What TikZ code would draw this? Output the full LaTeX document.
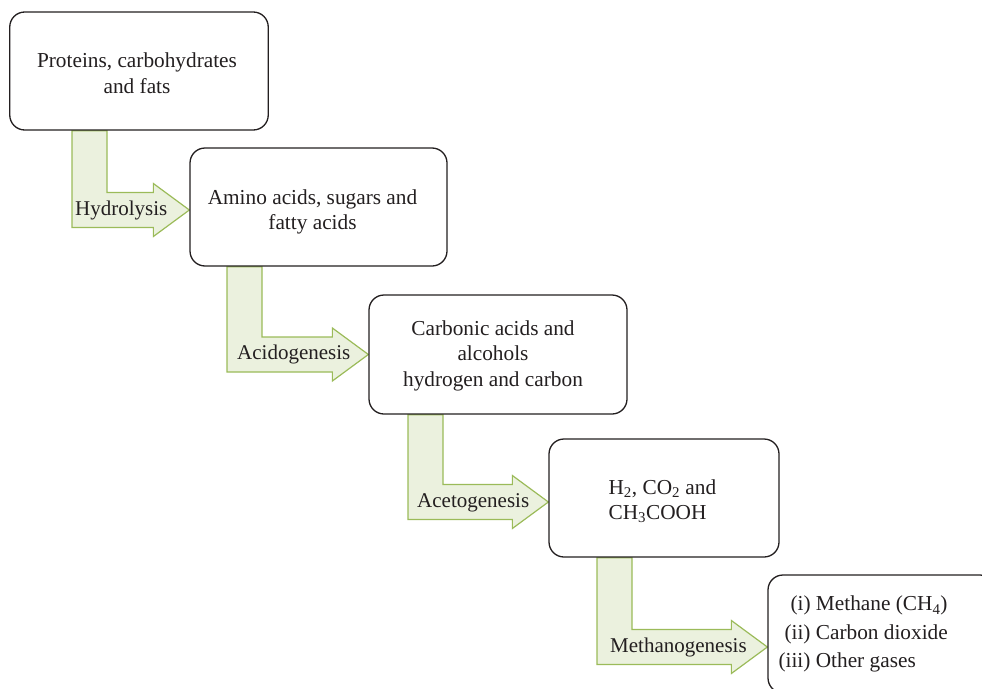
\documentclass[tikz,border=0pt]{standalone}
\usepackage{fontspec}
\setmainfont{Liberation Serif}
\usetikzlibrary{calc}
\pgfdeclarelayer{background}
\pgfsetlayers{background,main}
\definecolor{ink}{HTML}{231F20}
\definecolor{arrowfill}{HTML}{EBF1DE}
\definecolor{arrowline}{HTML}{9BBB59}
\tikzset{
  stagebox/.style={draw=ink, line width=1.3pt, fill=white, rounded corners=15pt,
    inner sep=0pt, minimum height=118pt},
  boxtext/.style={text=ink, font=\fontsize{21.3}{25.5}\selectfont, inner sep=0pt, align=center},
  arrowbody/.style={draw=arrowline, fill=arrowfill, line width=1.2pt, line join=miter},
  steplabel/.style={text=ink, font=\fontsize{21}{25.5}\selectfont, inner sep=0pt, anchor=base west},
}
% #1 from node, #2 to node, #3 shaft left x, #4 band centre y, #5 label x, #6 label
\newcommand\bentarrow[6]{%
  \begin{pgfonlayer}{background}
  \draw[arrowbody] (#3,0 |- #1.south) -- ++(35,0) -- (#3+35,#4-17.5)
    -- ($(#2.west |- 0,#4)+(-36,-17.5)$) -- ($(#2.west |- 0,#4)+(-36,-26.5)$)
    -- (#2.west |- 0,#4)
    -- ($(#2.west |- 0,#4)+(-36,26.5)$) -- ($(#2.west |- 0,#4)+(-36,17.5)$)
    -- (#3,#4+17.5) -- cycle;
  \end{pgfonlayer}
  \node[steplabel] at (#5,#4+5) {#6};
}
\begin{document}
\begin{tikzpicture}[x=1pt,y=-1pt]
\useasboundingbox (0,0) rectangle (982,688);
\clip (0,0) rectangle (982,688);
\node[stagebox, minimum width=258.5pt] (A) at (139,71) {};
\node[boxtext] (At) at ($(A.center)+(-2,2)$) {Proteins, carbohydrates\\and fats};
\node[stagebox, minimum width=257pt] (B) at (318.5,207) {};
\node[boxtext] (Bt) at ($(B.center)+(-6,5)$) {Amino acids, sugars and\\fatty acids};
\node[stagebox, minimum width=258pt, minimum height=119pt] (C) at (498,354.5) {};
\node[boxtext] (Ct) at ($(C.center)+(-5,1)$) {Carbonic acids and\\alcohols\\hydrogen and carbon};
\node[stagebox, minimum width=230pt] (D) at (664,498) {};
\node[boxtext, align=left, anchor=west] (Dt) at ($(D.west)+(60,3)$)
  {H\textsubscript{2}, CO\textsubscript{2} and\\CH\textsubscript{3}COOH};
\node[stagebox, minimum width=227pt] (E) at (881.5,634) {};
\node[boxtext, font=\fontsize{21.3}{28.5}\selectfont, align=left, anchor=north west] (Et) at ($(E.west)+(11,-38)$)
  {\hspace*{12pt}(i) Methane (CH\textsubscript{4})\\\hspace*{6pt}(ii) Carbon dioxide\\(iii) Other gases};
\bentarrow{A}{B}{72}{210}{75}{Hydrolysis}
\bentarrow{B}{C}{227}{354.5}{237}{Acidogenesis}
\bentarrow{C}{D}{408}{502}{417}{Acetogenesis}
\bentarrow{D}{E}{597}{647}{610}{Methanogenesis}
\end{tikzpicture}
\end{document}
